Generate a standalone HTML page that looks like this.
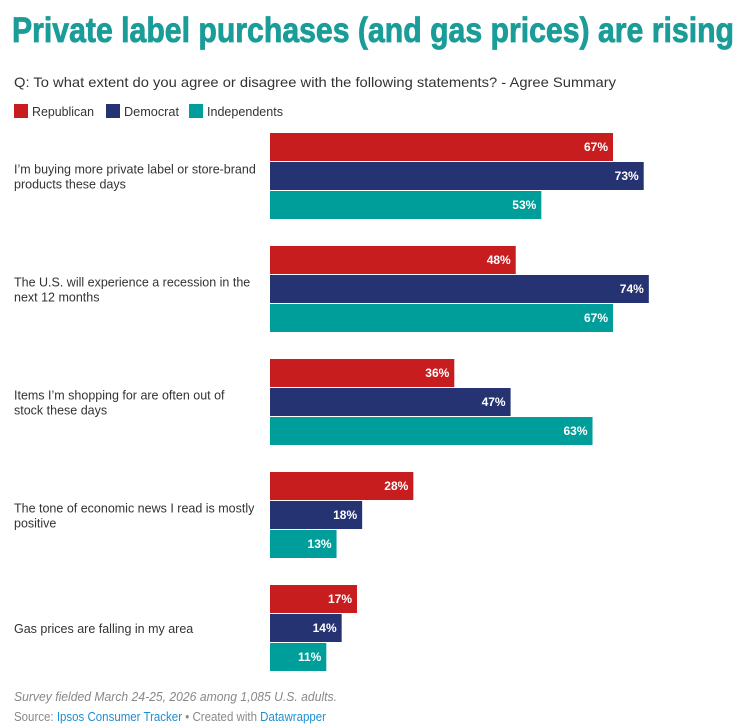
<!DOCTYPE html>
<html><head><meta charset="utf-8"><style>
body{margin:0;background:#fff;}
svg{display:block;font-family:"Liberation Sans",sans-serif;}
</style></head><body>
<svg id="chart" width="742" height="728">
<text x="12" y="42" font-size="35" font-weight="bold" fill="#1a9c98" stroke="#1a9c98" stroke-width="0.8" textLength="722" lengthAdjust="spacingAndGlyphs">Private label purchases (and gas prices) are rising</text>
<text x="14" y="87" font-size="14" fill="#333" textLength="602" lengthAdjust="spacingAndGlyphs">Q: To what extent do you agree or disagree with the following statements? - Agree Summary</text>
<g>
<rect x="14" y="104" width="14" height="14" fill="#c81d1f"/>
<text x="32" y="116" font-size="13" fill="#333" textLength="62" lengthAdjust="spacingAndGlyphs">Republican</text>
<rect x="106" y="104" width="14" height="14" fill="#263373"/>
<text x="124" y="116" font-size="13" fill="#333" textLength="55" lengthAdjust="spacingAndGlyphs">Democrat</text>
<rect x="189" y="104" width="14" height="14" fill="#009e9b"/>
<text x="207" y="116" font-size="13" fill="#333" textLength="76" lengthAdjust="spacingAndGlyphs">Independents</text>
</g>
<g id="bars"></g>
<text x="14" y="701" font-size="12.5" font-style="italic" fill="#888" textLength="323" lengthAdjust="spacingAndGlyphs">Survey fielded March 24-25, 2026 among 1,085 U.S. adults.</text>
<text x="14" y="721" font-size="12.5" fill="#888" textLength="312" lengthAdjust="spacingAndGlyphs">Source: <tspan fill="#1d8fd1">Ipsos Consumer Tracker</tspan> • Created with <tspan fill="#1d8fd1">Datawrapper</tspan></text>
</svg>
<script>
const categories=[["I’m buying more private label or store-brand","products these days"],["The U.S. will experience a recession in the","next 12 months"],["Items I’m shopping for are often out of","stock these days"],["The tone of economic news I read is mostly","positive"],["Gas prices are falling in my area"]];
const republican=[67,48,36,28,17];
const democrat=[73,74,47,18,14];
const independents=[53,67,63,13,11];
const seriesNames=["republican","democrat","independents"];
const colors=["#c81d1f","#263373","#009e9b"];
const NS="http://www.w3.org/2000/svg";
const g=document.getElementById("bars");
const x0=270, pxPer=343/67;
const xScale=v=>v*pxPer;
const groupTop=i=>133+113*i;
const series=[republican,democrat,independents];
function mk(t,a){const e=document.createElementNS(NS,t);for(const k in a)e.setAttribute(k,a[k]);return e;}
categories.forEach((lines,i)=>{
  const top=groupTop(i);
  const cy=top+43;
  const startY=cy+5-(lines.length-1)*7.5;
  lines.forEach((ln,j)=>{
    const t=mk("text",{x:14,y:startY+j*15,"font-size":12.5,fill:"#333"});
    
    
    t.textContent=ln;g.appendChild(t);
  });
  series.forEach((s,k)=>{
    const y=top+k*29, w=xScale(s[i]);
    const r=mk("rect",{x:x0,y:y,width:w,height:28,fill:colors[k]});
    
    
    g.appendChild(r);
    const t=mk("text",{x:x0+w-5,y:y+18,"font-size":12,"font-weight":"bold",fill:"#fff","text-anchor":"end"});
    
    
    t.textContent=s[i]+"%";g.appendChild(t);
  });
});
</script>
</body></html>
